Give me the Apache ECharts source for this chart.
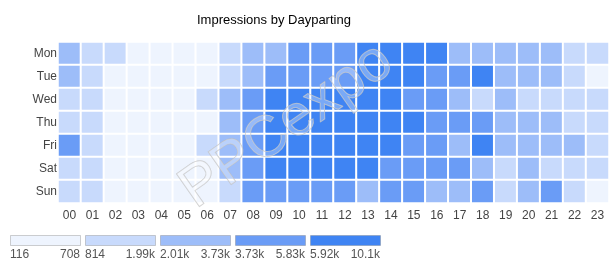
<!DOCTYPE html>
<html><head><meta charset="utf-8">
<script src="https://cdn.jsdelivr.net/npm/echarts@6/dist/echarts.min.js"></script>
<style>html,body{margin:0;padding:0;background:#fff}#c{width:616px;height:275px}</style>
</head><body><div id="c"></div>
<script>
const hours = ['00','01','02','03','04','05','06','07','08','09','10','11','12','13','14','15','16','17','18','19','20','21','22','23'];
const days = ['Mon','Tue','Wed','Thu','Fri','Sat','Sun'];
const mon = [3100,1500,1300,420,350,380,520,1400,3500,2900,4600,4300,4100,7800,8200,8600,7400,3200,3100,2900,3000,3300,1600,1500];
const tue = [3600,1600,300,260,240,250,330,1300,3300,4400,4700,4900,4500,7200,7600,6800,4800,4300,7900,3000,3100,2800,1500,116];
const wed = [1700,1500,420,300,270,330,1600,3400,4800,8900,9400,9200,8800,8500,7700,5200,4700,2800,1200,2600,1400,1500,1600,1800];
const thu = [1500,1700,400,340,300,360,600,3200,5000,6100,9100,9600,9800,8700,8300,8000,4900,5100,4400,2900,2700,3200,1500,1600];
const fri = [3800,1800,380,300,280,320,1900,3600,5300,10100,9700,9300,9000,8400,7900,4600,4200,3000,8100,2800,2700,2900,3500,1700];
const sat = [1600,1900,450,380,350,400,700,3300,5400,8700,9000,8800,8600,7300,5100,4500,4800,4300,2700,1300,2500,1200,1400,1300];
const sun = [1700,1800,400,330,300,350,450,1500,4700,5000,4800,4600,4400,3600,4300,4500,3300,3400,4600,1400,2900,4900,1500,500];
const pieceMin = [116, 814, 2010, 3731, 5920];
const pieceMax = [708, 1990, 3729, 5830, 10100];
const pieceColors = ['#eef4fe','#c8dafc','#9dbdf9','#6a9cf6','#3f84f3'];
const pieceLabels = [['116','708'],['814','1.99k'],['2.01k','3.73k'],['3.73k','5.83k'],['5.92k','10.1k']];

const rows = [mon,tue,wed,thu,fri,sat,sun];
const data = [];
rows.forEach((r,i)=>r.forEach((v,j)=>data.push([j,i,v])));

const FONT = "'Liberation Sans', Arial, sans-serif";
const graphics = [];
for (let k=0;k<5;k++){
  const x0 = 10 + 75*k;
  graphics.push({type:'rect', left:x0, top:235, shape:{width:70,height:10},
    style:{fill:pieceColors[k], stroke:'rgba(120,120,120,0.35)', lineWidth:1}});
  graphics.push({type:'text', x:x0, y:255, style:{text:pieceLabels[k][0], fill:'#555', font:'12px '+FONT, textAlign:'left', textVerticalAlign:'middle'}});
  graphics.push({type:'text', x:x0+70, y:255, style:{text:pieceLabels[k][1], fill:'#555', font:'12px '+FONT, textAlign:'right', textVerticalAlign:'middle'}});
}
graphics.push({type:'text', x:203, y:220, rotation:35*Math.PI/180, z:100,
  style:{text:'PPCexpo', font:'58px '+FONT, fill:'rgba(255,255,255,0.3)', stroke:'rgba(190,190,190,0.75)', lineWidth:1, textVerticalAlign:'bottom'}});

const chart = echarts.init(document.getElementById('c'), null, {renderer:'canvas'});
chart.setOption({
  animation:false,
  textStyle:{fontFamily:FONT},
  title:{text:'Impressions by Dayparting', left:197, top:14, padding:0,
    textStyle:{fontSize:13, fontWeight:'normal', color:'#000', fontFamily:FONT}},
  grid:{left:58, right:7, top:42, bottom:72},
  xAxis:{type:'category', data:hours, axisLine:{show:false}, axisTick:{show:false}, splitLine:{show:false},
    axisLabel:{color:'#444', fontSize:12, margin:7, interval:0, fontFamily:FONT}},
  yAxis:{type:'category', data:days, inverse:true, axisLine:{show:false}, axisTick:{show:false}, splitLine:{show:false},
    axisLabel:{color:'#444', fontSize:12, margin:1, fontFamily:FONT}},
  visualMap:{type:'piecewise', show:false, dimension:2,
    pieces: pieceMin.map((m,k)=>({min:m, max:pieceMax[k], color:pieceColors[k]}))},
  series:[{type:'heatmap', data:data, itemStyle:{borderColor:'#fff', borderWidth:2}, emphasis:{disabled:true}}],
  graphic:graphics
});
</script></body></html>
